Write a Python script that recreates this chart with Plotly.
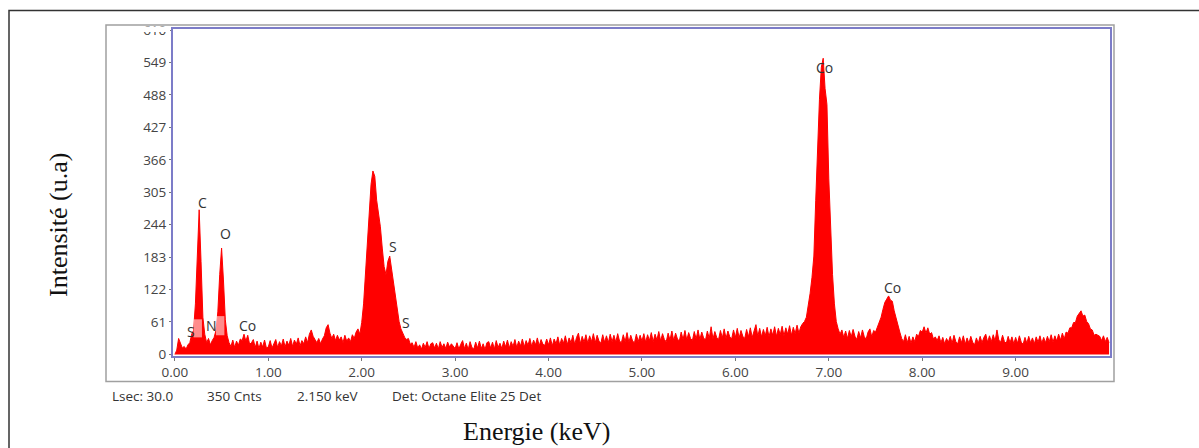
import numpy as np
import plotly.graph_objects as go

# ---- spectrum data: counts per 0.02 keV channel, one list per keV ----
channel_width = 0.02
counts_0 = [0, 8, 30, 22, 12, 15, 10, 18, 22, 38, 45, 95, 205, 272, 175, 70, 38, 22, 30, 18,
            26, 32, 45, 80, 150, 200, 140, 65, 35, 22, 15, 27, 13, 25, 17, 29, 26, 38, 25, 36,
            19, 22, 28, 13, 25, 11, 23, 14, 27, 12]
counts_1 = [14, 26, 12, 22, 28, 13, 24, 16, 29, 14, 25, 17, 30, 15, 27, 19, 31, 16, 26, 20,
            33, 22, 38, 46, 34, 28, 22, 30, 20, 29, 35, 50, 56, 40, 30, 38, 26, 36, 27, 33,
            22, 36, 25, 31, 24, 37, 30, 42, 48, 38]
counts_2 = [60, 95, 150, 200, 265, 320, 345, 335, 290, 265, 240, 200, 165, 150, 175, 185, 160, 130, 105, 80,
            62, 48, 40, 32, 28, 30, 19, 22, 13, 24, 12, 18, 10, 21, 13, 24, 11, 20, 22, 12,
            21, 10, 24, 13, 20, 11, 23, 14, 20, 16]
counts_3 = [11, 22, 10, 19, 26, 11, 21, 9, 24, 13, 10, 23, 12, 25, 11, 20, 9, 22, 24, 12,
            23, 10, 26, 13, 21, 11, 25, 14, 27, 12, 24, 15, 28, 13, 25, 16, 29, 14, 26, 17,
            30, 15, 27, 18, 31, 16, 28, 19, 17, 29]
counts_4 = [18, 31, 16, 29, 20, 33, 17, 30, 21, 35, 18, 31, 22, 36, 19, 32, 40, 20, 34, 23,
            37, 21, 35, 24, 39, 22, 36, 25, 21, 37, 23, 35, 22, 38, 24, 36, 23, 39, 25, 22,
            37, 24, 41, 23, 36, 25, 22, 38, 24, 36]
counts_5 = [25, 39, 23, 37, 26, 41, 24, 38, 27, 43, 25, 39, 28, 24, 40, 27, 44, 26, 40, 29,
            25, 42, 28, 45, 27, 41, 30, 26, 43, 29, 46, 28, 42, 31, 27, 44, 30, 52, 29, 43,
            32, 28, 45, 31, 48, 30, 44, 33, 29, 46]
counts_6 = [32, 49, 31, 45, 34, 30, 47, 33, 50, 32, 46, 56, 34, 49, 33, 47, 35, 51, 33, 48,
            36, 52, 34, 49, 37, 53, 35, 50, 38, 54, 36, 51, 39, 55, 40, 52, 58, 62, 70, 90,
            115, 145, 185, 290, 390, 480, 540, 557, 500, 470]
counts_7 = [330, 220, 150, 95, 62, 48, 38, 46, 32, 44, 30, 45, 33, 47, 34, 28, 43, 31, 46, 33,
            29, 42, 48, 33, 45, 42, 52, 58, 70, 85, 98, 104, 110, 102, 100, 82, 68, 52, 42, 30,
            24, 37, 22, 34, 21, 33, 24, 38, 34, 45]
counts_8 = [42, 52, 40, 50, 38, 41, 29, 33, 26, 35, 22, 32, 20, 30, 23, 34, 21, 36, 24, 20,
            33, 22, 35, 19, 31, 21, 34, 23, 18, 31, 21, 34, 22, 32, 38, 23, 35, 24, 37, 25,
            46, 27, 23, 36, 24, 21, 34, 22, 33, 20]
counts_9 = [32, 21, 35, 23, 19, 32, 21, 34, 22, 31, 20, 33, 23, 35, 21, 32, 22, 34, 24, 37,
            23, 35, 25, 38, 27, 40, 29, 42, 40, 50, 50, 60, 60, 72, 76, 82, 72, 74, 62, 58,
            48, 46, 36, 38, 36, 34, 26, 35, 24, 32, 22]

counts = counts_0 + counts_1 + counts_2 + counts_3 + counts_4 + counts_5 + counts_6 + counts_7 + counts_8 + counts_9
energies = np.arange(len(counts)) * channel_width

# axis ticks
x_tick_vals = [0, 1, 2, 3, 4, 5, 6, 7, 8, 9]
x_tick_text = ["0.00", "1.00", "2.00", "3.00", "4.00", "5.00", "6.00", "7.00", "8.00", "9.00"]
y_tick_vals = [0, 61, 122, 183, 244, 305, 366, 427, 488, 549, 610]

# element labels
label_text = ["S", "C", "N", "O", "Co", "S", "S", "Co", "Co"]
label_x = [0.168, 0.30, 0.393, 0.546, 0.774, 2.33, 2.47, 6.95, 7.68]
label_y = [44, 285, 54, 228, 54, 203, 60, 540, 126]

# ROI highlight boxes
roi_x0 = [0.20, 0.44]
roi_x1 = [0.29, 0.53]
roi_y0 = [32, 36]
roi_y1 = [66, 72]

# footer info
info_text = ["Lsec: 30.0", "350 Cnts", "2.150 keV", "Det: Octane Elite 25 Det"]
info_px = [110, 205, 295, 390]

W, H = 1199, 448
L, R, T, B = 173, 89, 29, 92
PW, PH = W - L - R, H - T - B

def px_x(px):
    return (px - L) / PW

def px_y(py):
    return (H - B - py) / PH

fig = go.Figure()
fig.add_trace(go.Scatter(
    x=energies, y=counts, mode="lines",
    line=dict(color="#ff0000", width=1),
    fill="tozeroy", fillcolor="#ff0000",
    hoverinfo="skip", showlegend=False,
))

tick_font = dict(family="Open Sans, sans-serif", size=13.5, color="#444444")

fig.update_layout(
    width=W, height=H,
    margin=dict(l=L, r=R, t=T, b=B),
    paper_bgcolor="white", plot_bgcolor="white",
    xaxis=dict(range=[-0.02, 10.01], tickvals=x_tick_vals, ticktext=x_tick_text,
               ticks="outside", ticklen=3, tickcolor="#777777",
               showline=True, linecolor="#7c7cc8", linewidth=2, mirror=True,
               showgrid=False, zeroline=False, tickfont=tick_font),
    yaxis=dict(range=[-3, 612], tickvals=y_tick_vals,
               ticks="outside", ticklen=2, tickcolor="#777777",
               showline=True, linecolor="#7c7cc8", linewidth=2, mirror=True,
               showgrid=False, zeroline=False, tickfont=tick_font),
)

# ROI boxes (semi-transparent white over red -> pink)
for x0, x1, y0, y1 in zip(roi_x0, roi_x1, roi_y0, roi_y1):
    fig.add_shape(type="rect", xref="x", yref="y", x0=x0, x1=x1, y0=y0, y1=y1,
                  fillcolor="rgba(255,255,255,0.55)", line=dict(width=0), layer="above")

# element labels
for t, x, y in zip(label_text, label_x, label_y):
    fig.add_annotation(x=x, y=y, xref="x", yref="y", text=t, showarrow=False,
                       font=dict(family="Open Sans, sans-serif", size=14, color="#333333"),
                       xanchor="center", yanchor="middle")

# white patch clipping the top of the "610" label
fig.add_shape(type="rect", xref="paper", yref="paper",
              x0=px_x(120), x1=px_x(170), y0=px_y(32), y1=px_y(26.5),
              fillcolor="white", line=dict(width=0), layer="above")

# grey inner frame
fig.add_shape(type="rect", xref="paper", yref="paper",
              x0=px_x(106), x1=px_x(1114), y0=px_y(381.5), y1=px_y(25),
              line=dict(color="#a0a0a0", width=1.5), fillcolor="rgba(0,0,0,0)", layer="above")

# outer black frame
fig.add_shape(type="rect", xref="paper", yref="paper",
              x0=px_x(9), x1=px_x(1215), y0=px_y(470), y1=px_y(10.5),
              line=dict(color="#333333", width=1.5), fillcolor="rgba(0,0,0,0)", layer="above")

# footer info texts
for t, px in zip(info_text, info_px):
    fig.add_annotation(x=px_x(px), y=px_y(396), xref="paper", yref="paper", text=t,
                       showarrow=False, xanchor="left", yanchor="middle",
                       font=dict(family="Open Sans, sans-serif", size=13.5, color="#333333"))

# axis titles
fig.add_annotation(x=px_x(537), y=px_y(431), xref="paper", yref="paper",
                   text="Energie (keV)", showarrow=False, xanchor="center", yanchor="middle",
                   font=dict(family="Liberation Serif, Times New Roman, serif", size=26, color="#111111"))
fig.add_annotation(x=px_x(58), y=px_y(225), xref="paper", yref="paper",
                   text="Intensité (u.a)", showarrow=False, textangle=-90,
                   xanchor="center", yanchor="middle",
                   font=dict(family="Liberation Serif, Times New Roman, serif", size=26, color="#111111"))

fig.write_html("out.html", config={"displayModeBar": False},
               post_script="document.body.style.margin='0';document.body.style.padding='0';")
